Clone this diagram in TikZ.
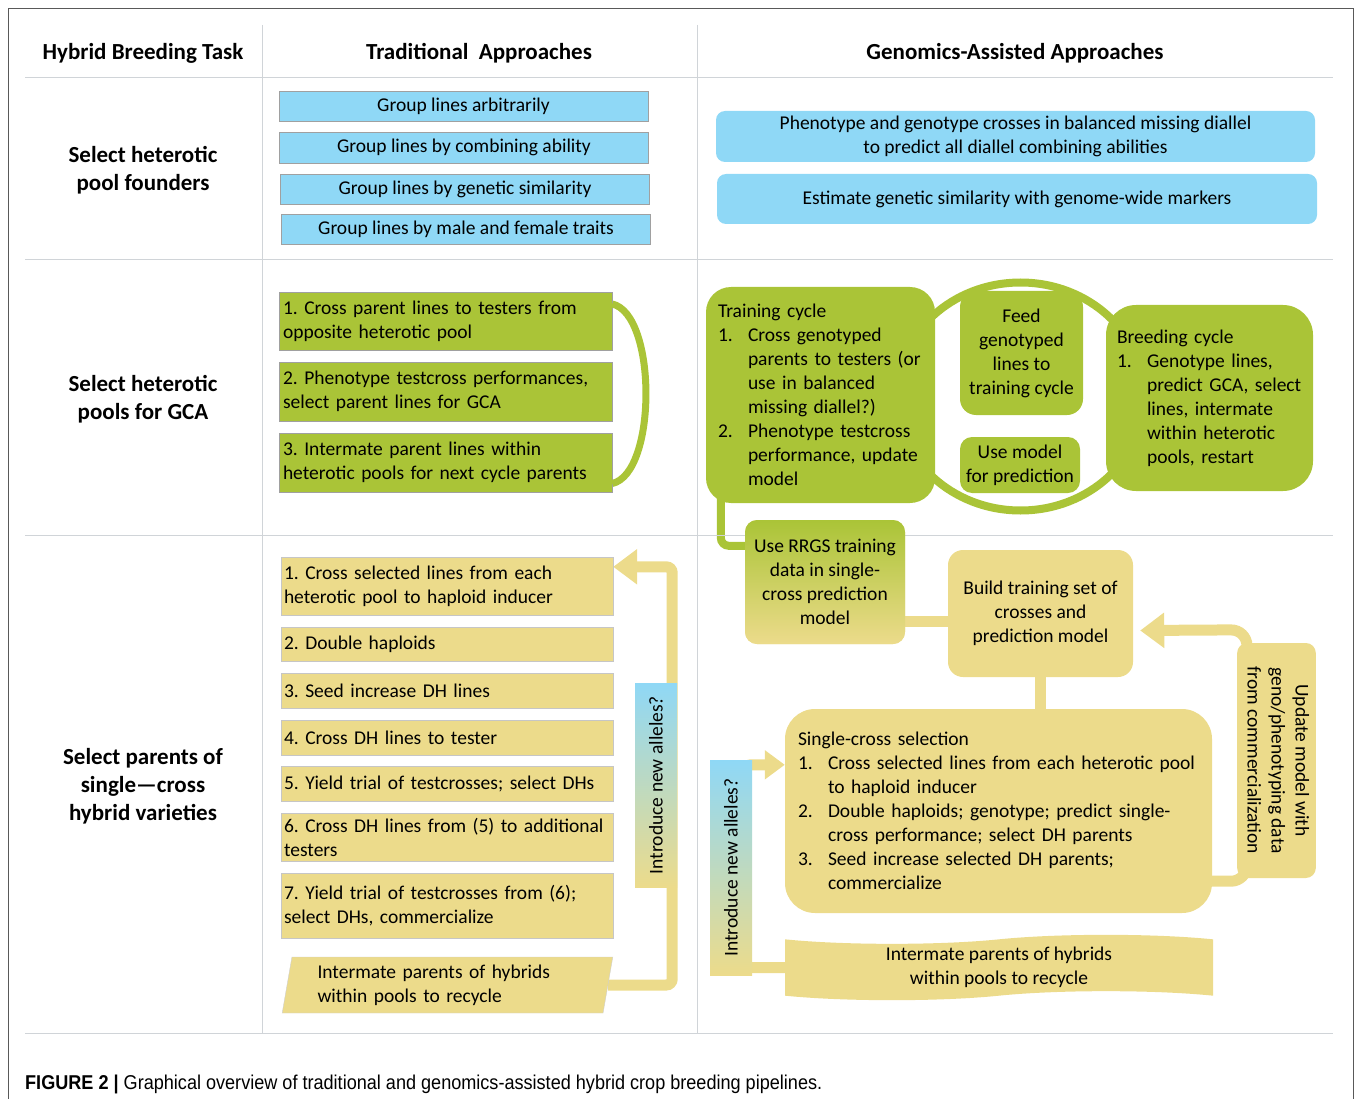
\documentclass[tikz,border=0pt]{standalone}
\usepackage{fontspec}
\setmainfont{Carlito}
\newfontfamily\capfont{Liberation Sans}
\usepackage{graphicx}
\usetikzlibrary{arrows.meta, positioning, calc, shapes.geometric, shapes.symbols, backgrounds}
\frenchspacing

\definecolor{skyfill}{RGB}{143,216,246}
\definecolor{limefill}{RGB}{170,196,55}
\definecolor{strawfill}{RGB}{236,219,139}
\definecolor{gridgray}{RGB}{208,212,216}
\definecolor{edgegray}{RGB}{160,160,160}

\newcommand{\bodyfont}{\fontsize{19.5}{24}\selectfont}
\newcommand{\headfont}{\fontsize{23}{28}\selectfont\bfseries}
\newcommand{\numit}[1]{\makebox[30pt][l]{#1}}
\newcommand{\contit}{\hspace*{30pt}}
\newcommand{\turned}[2]{\rotatebox{#1}{\begin{tabular}{@{}c@{}}#2\end{tabular}}}

\begin{document}
\begin{tikzpicture}[x=1pt, y=-1pt,
    headtxt/.style={font=\headfont, align=center},
    flatblue/.style={rectangle, draw=edgegray, fill=skyfill, minimum width=369pt, minimum height=30pt, inner sep=0pt, font=\bodyfont},
    roundblue/.style={rectangle, rounded corners=9pt, fill=skyfill, minimum width=600pt, minimum height=50pt, align=center, font=\bodyfont},
    greenbox/.style={rectangle, draw=edgegray, fill=limefill, text width=325pt, inner xsep=4pt, align=left, font=\bodyfont},
    yellowbox/.style={rectangle, draw=edgegray!60, fill=strawfill, text width=326pt, inner xsep=3pt, align=left, font=\bodyfont},
    greencard/.style={rectangle, fill=limefill, align=center, font=\bodyfont},
    yellowcard/.style={rectangle, fill=strawfill, align=center, font=\bodyfont},
    alleles/.style={rectangle, top color=skyfill, bottom color=strawfill, minimum width=42pt, inner sep=0pt, font=\bodyfont},
    greenlink/.style={draw=limefill, line width=8pt},
    yellowlink/.style={draw=strawfill, line width=11pt},
    bigtip/.style={-{Triangle[length=24pt, width=34pt]}},
    smalltip/.style={-{Triangle[length=20pt, width=28pt]}}
]
    \useasboundingbox (0,0) rectangle (1357,1099);

    % frame and table rules
    \draw[black!65, line width=1.2pt] (8.5,1110) -- (8.5,8.5) -- (1353.5,8.5) -- (1353.5,1110);
    \draw[gridgray, line width=1pt] (25,78) -- (1333,78);
    \draw[gridgray, line width=1pt] (25,260) -- (1333,260);
    \draw[gridgray, line width=1pt] (25,535) -- (1333,535);
    \draw[gridgray, line width=1pt] (25,1033) -- (1333,1033);
    \draw[gridgray, line width=1pt] (262,25) -- (262,1033);
    \draw[gridgray, line width=1pt] (697,25) -- (697,1033);

    % Column heads
    \node[headtxt] (hdtask) at (143,53) {Hybrid Breeding Task};
    \node[headtxt] (hdtrad) at (479,53) {Traditional\ \ Approaches};
    \node[headtxt] (hdgen) at (1015,53) {Genomics-Assisted Approaches};

    % Tasks
    \node[headtxt] (task1) at (143,170) {Select heterotic\\pool founders};
    \node[headtxt] (task2) at (143,399) {Select heterotic\\pools for GCA};
    \node[headtxt] (task3) at (143,786) {Select parents of\\single---cross\\hybrid varieties};

    % Row 1: pool founders
    \node[flatblue] (tb1) at (463.5,106) {Group lines arbitrarily};
    \node[flatblue, minimum height=31pt] (tb2) at (464,147.5) {Group lines by combining ability};
    \node[flatblue] (tb3) at (465,189) {Group lines by genetic similarity};
    \node[flatblue] (tb4) at (466,229) {Group lines by male and female traits};

    \node[roundblue, minimum width=599pt, minimum height=51pt] (gb1) at (1015.5,136.5) {Phenotype and genotype crosses in balanced missing diallel\\to predict all diallel combining abilities};
    \node[roundblue] (gb2) at (1017,199) {Estimate genetic similarity with genome-wide markers};

    % Row 2: pools for GCA
    \node[greenbox, minimum height=58pt] (tg1) at (445.5,321) {1. Cross parent lines to testers from\\opposite heterotic pool};
    \node[greenbox, minimum height=59pt] (tg2) at (445.5,391.5) {2. Phenotype testcross performances,\\select parent lines for GCA};
    \node[greenbox, minimum height=59pt] (tg3) at (445.5,462.5) {3. Intermate parent lines within\\heterotic pools for next cycle parents};
    \draw[limefill, line width=7pt] ([yshift=17pt]tg1.east) .. controls +(45,10) and +(45,-10) .. ([yshift=-21pt]tg3.east);

    \node[greencard, rounded corners=25pt, minimum width=229pt, minimum height=216pt, text width=205pt, align=left] (train) at (820.5,395) {Training cycle\\
        \numit{1.}Cross genotyped\\
        \contit parents to testers (or\\
        \contit use in balanced\\
        \contit missing diallel?)\\
        \numit{2.}Phenotype testcross\\
        \contit performance, update\\
        \contit model};
    \node[greencard, rounded corners=16pt, minimum width=123pt, minimum height=124pt] (feed) at (1021.5,353) {Feed\\genotyped\\lines to\\training cycle};
    \node[greencard, rounded corners=12pt, minimum width=120pt, minimum height=56pt] (usemodel) at (1020,465) {Use model\\for prediction};
    \node[greencard, rounded corners=30pt, minimum width=207pt, minimum height=186pt, text width=185pt, align=left] (breed) at (1209.5,398) {Breeding cycle\\
        \numit{1.}Genotype lines,\\
        \contit predict GCA, select\\
        \contit lines, intermate\\
        \contit within heterotic\\
        \contit pools, restart};

    % Row 3: single-cross parents
    \node[yellowbox, minimum height=58pt] (ty1) at (447,586) {1. Cross selected lines from each\\heterotic pool to haploid inducer};
    \node[yellowbox, minimum height=34pt] (ty2) at (447,644) {2. Double haploids};
    \node[yellowbox, minimum height=35pt] (ty3) at (447,690.5) {3. Seed increase DH lines};
    \node[yellowbox, minimum height=35pt] (ty4) at (447,737.5) {4. Cross DH lines to tester};
    \node[yellowbox, minimum height=35pt] (ty5) at (447,783.5) {5. Yield trial of testcrosses; select DHs};
    \node[yellowbox, minimum height=48pt] (ty6) at (447,837) {6. Cross DH lines from (5) to additional\\testers};
    \node[yellowbox, minimum height=65pt] (ty7) at (447,905.5) {7. Yield trial of testcrosses from (6);\\select DHs, commercialize};
    \node[trapezium, trapezium left angle=80, trapezium right angle=100, trapezium stretches=true,
          fill=strawfill, draw=edgegray!50, minimum width=331pt, minimum height=56pt,
          text width=260pt, align=left, font=\bodyfont] (intermate1) at (447.5,985) {Intermate parents of hybrids\\within pools to recycle};
    \node[alleles, minimum height=204pt] (alleles1) at (656,785) {\rotatebox{90}{Introduce new alleles?}};

    \node[yellowcard, rounded corners=12pt, top color=limefill, bottom color=strawfill, minimum width=160pt, minimum height=124pt] (rrgs) at (825,582) {Use RRGS training\\data in single-\\cross prediction\\model};
    \node[yellowcard, rounded corners=15pt, minimum width=185pt, minimum height=127pt] (build) at (1040.5,613.5) {Build training set of\\crosses and\\prediction model};
    \node[yellowcard, rounded corners=30pt, minimum width=427pt, minimum height=204pt, text width=401pt, align=left] (single) at (998.5,811) {Single-cross selection\\
        \numit{1.}Cross selected lines from each heterotic pool\\
        \contit to haploid inducer\\
        \numit{2.}Double haploids; genotype; predict single-\\
        \contit cross performance; select DH parents\\
        \numit{3.}Seed increase selected DH parents;\\
        \contit commercialize};
    \node[yellowcard, rounded corners=10pt, minimum width=73pt, minimum height=235pt] (update) at (1276.5,760.5) {\turned{-90}{Update model with\\geno/phenotyping data\\from commercialization}};
    \node[yellowcard, tape, tape bend height=9pt, minimum width=428pt, minimum height=55pt] (intermate2) at (999,967.5) {Intermate parents of hybrids\\within pools to recycle};
    \node[alleles, minimum height=215pt] (alleles2) at (731,867.5) {\rotatebox{90}{Introduce new alleles?}};

    \coordinate (turn1) at ($(alleles1.east |- ty1.north) + (-5,10)$);
    \coordinate (turn2) at ($(alleles2.north) + (14,5)$);

    % connectors under the boxes
    \begin{scope}[on background layer]
        \draw[greenlink] ($(train.east)!0.5!(breed.west)$) ellipse [x radius=124pt, y radius=114pt];
        \draw[greenlink, rounded corners=8pt] ([xshift=15pt, yshift=10pt]train.south west) |- ([yshift=-26pt]rrgs.north west);
        \draw[yellowlink] ([yshift=-8pt]rrgs.east |- build.west) -- ([yshift=-8pt]build.west);
        \draw[yellowlink] (build.south) -- (build.south |- single.north);
        \draw[yellowlink, bigtip, rounded corners=16pt] ([xshift=-10pt, yshift=32pt]single.south east) -| ([xshift=10pt, yshift=13pt]update.north west) -- ([xshift=7pt, yshift=-17pt]build.east);
        \draw[yellowlink, smalltip, rounded corners=6pt] (intermate2.west) -| (turn2) -- (turn2 -| single.west);
        \draw[yellowlink, bigtip, rounded corners=6pt] (intermate1.east) -| (turn1) -- (turn1 -| ty1.east);
    \end{scope}

    % Caption
    \node[anchor=west, inner sep=0pt] (caption) at (25,1084) {\resizebox{797pt}{14.5pt}{\capfont\textbf{FIGURE 2 |} Graphical overview of traditional and genomics-assisted hybrid crop breeding pipelines.}};
\end{tikzpicture}
\end{document}
